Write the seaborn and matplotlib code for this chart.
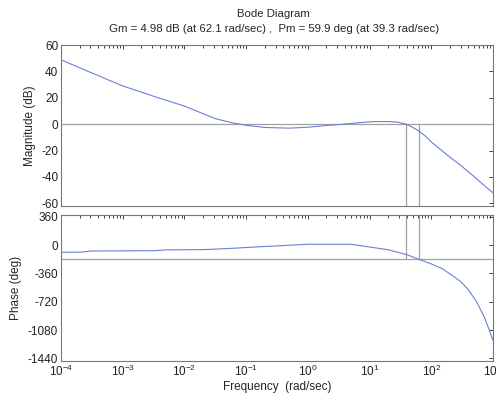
import numpy as np
import pandas as pd
import matplotlib
matplotlib.use("Agg")
import matplotlib.pyplot as plt
import matplotlib.ticker as mticker
import seaborn as sns

# Magnitude curve
mag_freq = [1e-4, 2.75e-4, 1e-3, 3.4e-3, 1e-2, 3.16e-2, 6e-2, 1e-1, 0.2, 0.5, 1.0, 2.0, 3.7, 7.0,
            12.0, 20.0, 28.0, 39.3, 50.0, 62.1, 80.0, 100.0, 150.0, 200.0, 300.0, 500.0, 700.0, 1000.0]
mag_db   = [48.8, 40.0, 29.0, 20.7, 13.7, 4.2, 1.0, -0.8, -2.5, -3.0, -2.3, -1.0, 0.0, 1.2,
            2.0, 2.0, 1.6, 0.0, -2.4, -4.98, -9.0, -13.5, -20.2, -25.0, -31.2, -40.0, -46.0, -52.0]

# Phase curve
ph_freq = [1e-4, 2.2e-4, 3e-4, 3.3e-3, 5e-3, 2e-2, 5e-2, 0.14, 0.3, 1.0, 5.0, 10.0, 20.0, 39.3,
           62.1, 100.0, 150.0, 210.0, 300.0, 400.0, 550.0, 725.0, 850.0, 1000.0]
ph_deg   = [-92, -90, -76, -72, -62, -58, -45, -25, -12, 10, 10, -25, -60, -120,
            -180, -240, -300, -378, -465, -570, -730, -920, -1060, -1215]

# Margins
gm_db, gm_freq = 4.98, 62.1
pm_deg, pm_freq = 59.9, 39.3

mag_ticks = [60, 40, 20, 0, -20, -40, -60]
ph_ticks = [360, 0, -360, -720, -1080, -1440]

sns.set_style("white")
plt.rcParams['font.family'] = ['Liberation Sans', 'DejaVu Sans']
plt.rcParams['mathtext.fontset'] = 'custom'
plt.rcParams['mathtext.rm'] = 'Liberation Sans'
plt.rcParams['mathtext.it'] = 'Liberation Sans'

fig = plt.figure(figsize=(4.96, 3.99), dpi=100)
ax1 = fig.add_axes([0.123, 0.4837, 0.871, 0.4035])
ax2 = fig.add_axes([0.123, 0.096, 0.871, 0.3652])

line_c = '#6a7fd8'
grey = '#a0a0a0'

dm = pd.DataFrame({'f': mag_freq, 'm': mag_db})
dp = pd.DataFrame({'f': ph_freq, 'p': ph_deg})

# reference lines
ax1.axhline(0, color=grey, lw=0.9, zorder=1)
ax1.plot([pm_freq, pm_freq], [0, -62], color=grey, lw=0.9, zorder=1)
ax1.plot([gm_freq, gm_freq], [0, -62], color=grey, lw=0.9, zorder=1)
ax2.axhline(-180, color=grey, lw=0.9, zorder=1)
ax2.plot([pm_freq, pm_freq], [382, -180], color=grey, lw=0.9, zorder=1)
ax2.plot([gm_freq, gm_freq], [382, -180], color=grey, lw=0.9, zorder=1)

sns.lineplot(data=dm, x='f', y='m', ax=ax1, color=line_c, lw=0.8, zorder=3)
sns.lineplot(data=dp, x='f', y='p', ax=ax2, color=line_c, lw=0.8, zorder=3)

for ax in (ax1, ax2):
    ax.set_xscale('log')
    ax.set_xlim(1e-4, 1e3)
    ax.xaxis.set_major_locator(mticker.LogLocator(base=10, numticks=20))
    ax.xaxis.set_minor_locator(mticker.LogLocator(base=10, subs=np.arange(2, 10), numticks=20))
    ax.tick_params(axis='both', which='both', direction='in', top=True, right=True,
                   labelsize=8.5, colors='#222222', width=0.6, pad=2)
    ax.tick_params(which='major', length=3)
    ax.tick_params(which='minor', length=2)
    for s in ax.spines.values():
        s.set_color('#777777')
        s.set_linewidth(0.8)
    ax.set_xlabel('')

ax1.set_ylim(-62, 60)
ax1.set_yticks(mag_ticks)
ax1.set_yticklabels([str(t) for t in mag_ticks])
ax1.tick_params(axis='x', labelbottom=False)
ax1.set_ylabel('Magnitude (dB)', fontsize=8.5, labelpad=4)

ax2.set_ylim(-1470, 382)
ax2.set_yticks(ph_ticks)
ax2.set_yticklabels([str(t) for t in ph_ticks])
ax2.set_ylabel('Phase (deg)', fontsize=8.5, labelpad=4)
ax2.set_xlabel('Frequency  (rad/sec)', fontsize=8.5, labelpad=2)
ax2.xaxis.set_major_formatter(mticker.LogFormatterSciNotation())

fig.text(0.552, 0.965, 'Bode Diagram', ha='center', va='center', fontsize=8.2)
fig.text(0.552, 0.927, 'Gm = %.2f dB (at %.1f rad/sec) ,  Pm = %.1f deg (at %.1f rad/sec)'
         % (gm_db, gm_freq, pm_deg, pm_freq), ha='center', va='center', fontsize=8.2)

fig.savefig('out.png', dpi=100)
